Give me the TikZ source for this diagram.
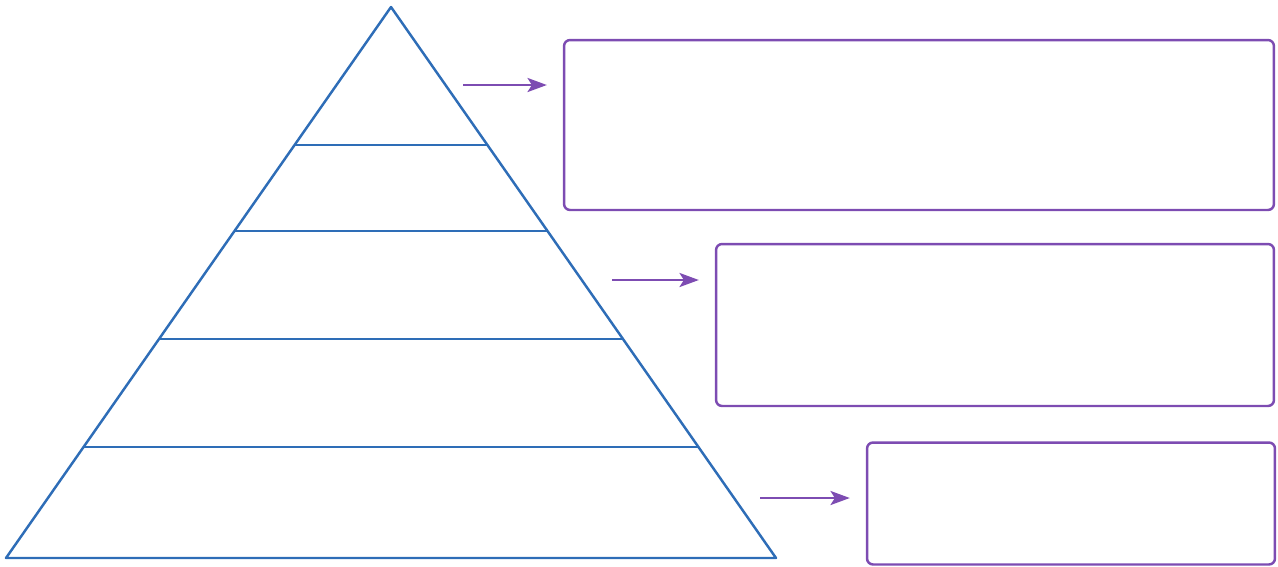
\documentclass[tikz,border=0pt]{standalone}
\usetikzlibrary{arrows.meta,calc}

\definecolor{azulpir}{HTML}{2E6DB7}
\definecolor{roxo}{HTML}{7D4CB2}

\tikzset{
	piramide/.style={draw=azulpir, line width=1.4pt, line join=round},
	caixa/.style={draw=roxo, line width=1.4pt, rounded corners=0.12cm, inner sep=0pt},
	seta/.style={draw=roxo, line width=1.4pt, -{Stealth[length=11pt,width=8pt,inset=2.5pt]}, shorten >=0.32cm}
}

\begin{document}
\begin{tikzpicture}[x=0.02cm, y=-0.02cm]
		\useasboundingbox (0,0) rectangle (1278,566);				% Margens
		
		% Pirâmide
		\coordinate (topo) at (391,7);
		\coordinate (baseE) at (6,558);
		\coordinate (baseD) at (776,558);
		\draw[piramide] (topo) -- (baseE) -- (baseD) -- cycle;
		
		% Níveis
		\foreach \y in {145,231,339,447}
			\draw[piramide] ($(topo)!{(\y-7)/551}!(baseE)$) -- ($(topo)!{(\y-7)/551}!(baseD)$);
		
		% Caixas
		\node[caixa, minimum width=14.2cm, minimum height=3.4cm] (c1) at (919,125) {};
		\node[caixa, minimum width=11.16cm, minimum height=3.24cm] (c2) at (995,325) {};
		\node[caixa, minimum width=8.16cm, minimum height=2.44cm] (c3) at (1071,503.5) {};
		
		% Setas
		\coordinate (s1) at (463,85);
		\coordinate (s2) at (612,280);
		\coordinate (s3) at (760,498);
		\draw[seta] (s1) -- (s1 -| c1.west);
		\draw[seta] (s2) -- (s2 -| c2.west);
		\draw[seta] (s3) -- (s3 -| c3.west);
	\end{tikzpicture}
\end{document}
